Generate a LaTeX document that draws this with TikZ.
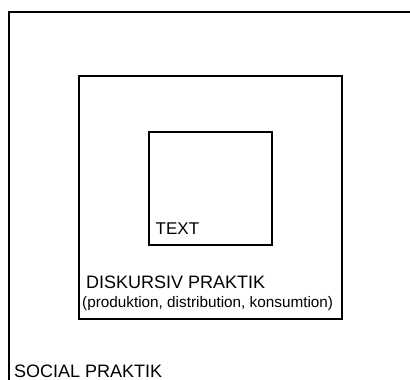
\documentclass[tikz,border=0pt]{standalone}
\usepackage{fontspec}
\setmainfont{Liberation Sans}
\usepackage{tikz}

\tikzset{
    frame/.style={line width=1.8pt},
    label/.style={anchor=base west, inner sep=0pt, font=\fontsize{18}{21}\selectfont},
    sublabel/.style={anchor=base west, inner sep=0pt, font=\fontsize{15.3}{18}\selectfont}
}

\begin{document}
\begin{tikzpicture}[x=1pt, y=-1pt]
    \useasboundingbox (0,0) rectangle (410,380);

    % Social praktik (open to the right and bottom)
    \draw[frame] (9,380) -- (9,12) -- (410,12);
    \node[label] (social) at (14, 377.5) {SOCIAL PRAKTIK};

    % Diskursiv praktik
    \draw[frame] (79,76) rectangle (342,319);
    \node[label] (diskursiv) at (86, 288) {DISKURSIV PRAKTIK};
    \node[sublabel] (processer) at (82, 307) {(produktion, distribution, konsumtion)};

    % Text
    \draw[frame] (149,132) rectangle (272,245);
    \node[label, font=\fontsize{17}{20}\selectfont] (text) at (155.5, 234) {TEXT};
\end{tikzpicture}
\end{document}
